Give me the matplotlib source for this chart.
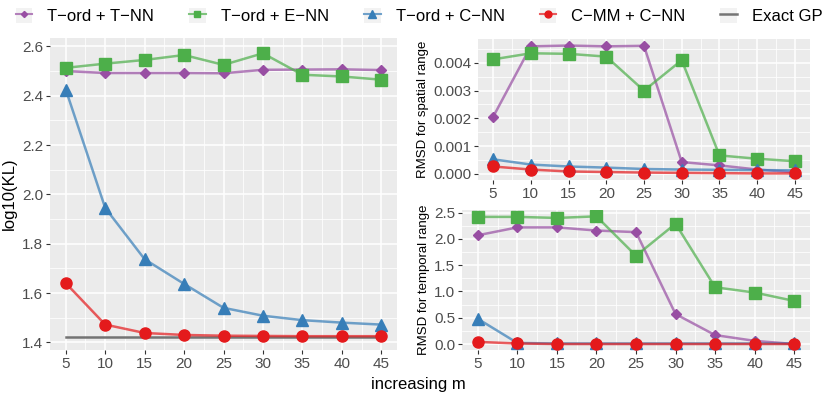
import matplotlib
matplotlib.use("Agg")
import matplotlib.pyplot as plt
from matplotlib.lines import Line2D
from matplotlib.patches import Rectangle
from matplotlib.legend_handler import HandlerTuple
import numpy as np

plt.rcParams['font.family'] = ['Liberation Sans', 'DejaVu Sans']

m = [5, 10, 15, 20, 25, 30, 35, 40, 45]
series = ["T\u2212ord + T\u2212NN", "T\u2212ord + E\u2212NN", "T\u2212ord + C\u2212NN", "C\u2212MM + C\u2212NN"]

kl_tt = [2.500, 2.492, 2.492, 2.492, 2.491, 2.505, 2.506, 2.507, 2.504]
kl_te = [2.513, 2.530, 2.545, 2.565, 2.525, 2.572, 2.485, 2.478, 2.465]
kl_tc = [2.425, 1.945, 1.737, 1.637, 1.540, 1.508, 1.490, 1.480, 1.472]
kl_cc = [1.640, 1.472, 1.438, 1.430, 1.427, 1.426, 1.425, 1.425, 1.425]
kl_exact = [1.423] * len(m)

sp_tt = [0.00205, 0.00460, 0.00463, 0.00460, 0.00462, 0.00042, 0.00030, 0.00015, 0.00005]
sp_te = [0.00413, 0.00435, 0.00433, 0.00423, 0.00300, 0.00410, 0.00066, 0.00054, 0.00045]
sp_tc = [0.00052, 0.00033, 0.00026, 0.00022, 0.00017, 0.00015, 0.00014, 0.00013, 0.00012]
sp_cc = [0.00026, 0.00015, 0.00008, 0.00006, 0.00004, 0.00003, 0.00002, 0.00001, 0.00001]

tm_tt = [2.07, 2.22, 2.22, 2.16, 2.13, 0.57, 0.17, 0.06, 0.00]
tm_te = [2.42, 2.42, 2.40, 2.43, 1.68, 2.29, 1.08, 0.98, 0.82]
tm_tc = [0.48, 0.02, 0.01, 0.01, 0.01, 0.01, 0.01, 0.01, 0.01]
tm_cc = [0.04, 0.01, 0.00, 0.00, 0.00, 0.00, 0.00, 0.00, 0.00]

colors = ["#984EA3", "#4DAF4A", "#377EB8", "#E41A1C"]
markers = ["D", "s", "^", "o"]
msizes = [5, 8, 9, 8]

W, H = 830, 394
fig = plt.figure(figsize=(W / 100, H / 100), dpi=100)

def ax_at(x0, y0, x1, y1):
    return fig.add_axes([x0 / W, 1 - y1 / H, (x1 - x0) / W, (y1 - y0) / H])

def style(ax, ylim, yticks, yminor, ylabels):
    ax.set_facecolor("#EBEBEB")
    for s in ax.spines.values():
        s.set_visible(False)
    ax.set_xlim(3, 47)
    ax.set_ylim(*ylim)
    ax.set_xticks(m)
    ax.set_xticks([7.5, 12.5, 17.5, 22.5, 27.5, 32.5, 37.5, 42.5], minor=True)
    ax.set_yticks(yticks)
    ax.set_yticklabels(ylabels)
    ax.set_yticks(yminor, minor=True)
    ax.grid(True, which="major", color="white", lw=1.1)
    ax.grid(True, which="minor", color="white", lw=0.55)
    ax.set_axisbelow(True)
    ax.tick_params(which="major", length=3, width=0.8, color="#333333",
                   labelsize=11, labelcolor="#4D4D4D", pad=2)
    ax.tick_params(which="minor", length=0)

def draw(ax, data):
    for d, c, mk, ms in zip(data, colors, markers, msizes):
        ax.plot(m, d, color=c, lw=1.8, alpha=0.7, zorder=3)
        ax.plot(m, d, color=c, lw=0, marker=mk, markersize=ms, zorder=4)

# left panel
ax1 = ax_at(50, 38, 397, 350)
style(ax1, (1.369, 2.634), [1.4, 1.6, 1.8, 2.0, 2.2, 2.4, 2.6],
      [1.5, 1.7, 1.9, 2.1, 2.3, 2.5], ["1.4", "1.6", "1.8", "2.0", "2.2", "2.4", "2.6"])
ax1.plot(m, kl_exact, color="#666666", lw=1.8, alpha=0.9, zorder=3)
draw(ax1, [kl_tt, kl_te, kl_tc, kl_cc])
ax1.set_ylabel("log10(KL)", fontsize=12, labelpad=4)

# top right
ax2 = ax_at(478, 39, 810, 180)
style(ax2, (-0.000228, 0.004866), [0, 0.001, 0.002, 0.003, 0.004],
      [0.0005, 0.0015, 0.0025, 0.0035, 0.0045],
      ["0.000", "0.001", "0.002", "0.003", "0.004"])
draw(ax2, [sp_tt, sp_te, sp_tc, sp_cc])
ax2.set_ylabel("RMSD for spatial range", fontsize=9.5, labelpad=3)

# bottom right
ax3 = ax_at(462, 210, 810, 350)
style(ax3, (-0.114, 2.551), [0, 0.5, 1.0, 1.5, 2.0, 2.5],
      [0.25, 0.75, 1.25, 1.75, 2.25], ["0.0", "0.5", "1.0", "1.5", "2.0", "2.5"])
draw(ax3, [tm_tt, tm_te, tm_tc, tm_cc])
ax3.set_ylabel("RMSD for temporal range", fontsize=9.5, labelpad=3)

# x label
fig.text(418 / W, 1 - 384 / H, "increasing m", ha="center", va="center", fontsize=12)

# legend with grey key boxes
def keybox():
    return Rectangle((0, 0), 1, 1, facecolor="#F2F2F2", edgecolor="none")

handles = []
for c, mk, ms in zip(colors, markers, msizes):
    handles.append((keybox(),
                    Line2D([], [], color=c, lw=1.5, alpha=0.7),
                    Line2D([], [], color=c, marker=mk, lw=0, markersize=ms * 0.62)))
handles.append((keybox(), Line2D([], [], color="#666666", lw=1.8, alpha=0.9)))
leg = fig.legend(handles, series + ["Exact GP"], loc="center", ncol=5,
                 bbox_to_anchor=(0.505, 1 - 16 / H), frameon=False, fontsize=12,
                 handlelength=1.0, handleheight=1.0, handletextpad=0.9,
                 columnspacing=2.1,
                 handler_map={tuple: HandlerTuple(ndivide=1, pad=0)})

fig.savefig("out.png", dpi=100)
